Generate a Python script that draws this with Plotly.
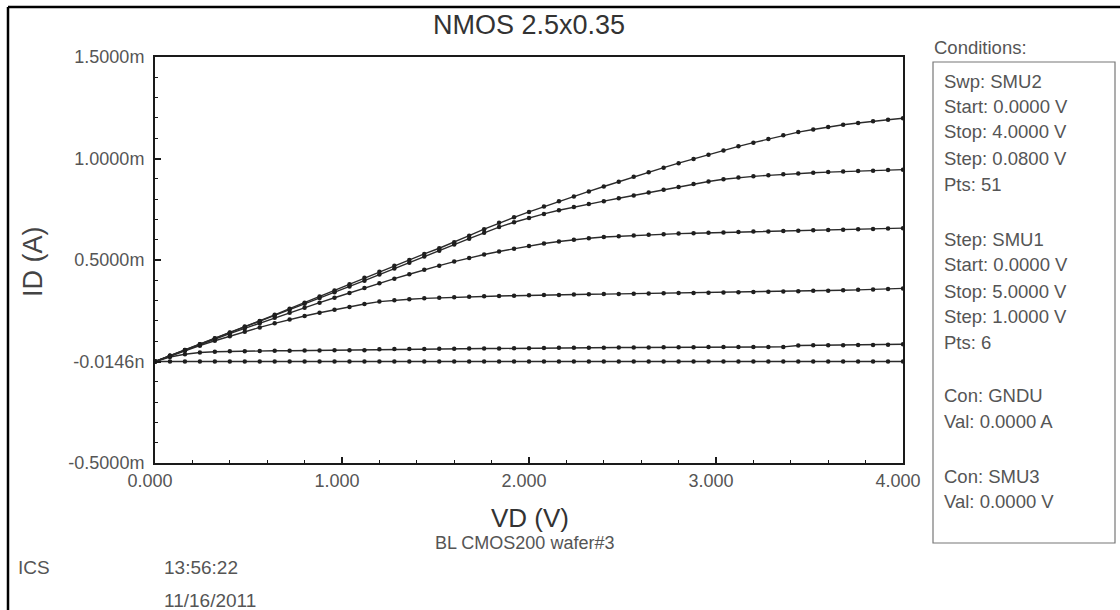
import plotly.graph_objects as go

# Drain sweep (SMU2): 0 V to 4 V in 0.08 V steps, 51 points
vd = [0.00, 0.08, 0.16, 0.24, 0.32, 0.40, 0.48, 0.56, 0.64, 0.72,
      0.80, 0.88, 0.96, 1.04, 1.12, 1.20, 1.28, 1.36, 1.44, 1.52,
      1.60, 1.68, 1.76, 1.84, 1.92, 2.00, 2.08, 2.16, 2.24, 2.32,
      2.40, 2.48, 2.56, 2.64, 2.72, 2.80, 2.88, 2.96, 3.04, 3.12,
      3.20, 3.28, 3.36, 3.44, 3.52, 3.60, 3.68, 3.76, 3.84, 3.92,
      4.00]

# Drain current in mA for each gate step (SMU1: 0..5 V)
id_vg0 = [0.000, 0.000, 0.000, 0.000, 0.000, 0.000, 0.000, 0.000, 0.000, 0.000,
          0.000, 0.000, 0.000, 0.000, 0.000, 0.000, 0.000, 0.000, 0.000, 0.000,
          0.000, 0.000, 0.000, 0.000, 0.000, 0.000, 0.000, 0.000, 0.000, 0.000,
          0.000, 0.000, 0.000, 0.000, 0.000, 0.000, 0.000, 0.000, 0.000, 0.000,
          0.000, 0.000, 0.000, 0.000, 0.000, 0.000, 0.000, 0.000, 0.000, 0.000,
          0.000]
id_vg1 = [0.000, 0.022, 0.036, 0.044, 0.048, 0.050, 0.051, 0.052, 0.053, 0.053,
          0.054, 0.054, 0.055, 0.055, 0.056, 0.060, 0.061, 0.062, 0.062, 0.063,
          0.063, 0.064, 0.064, 0.064, 0.065, 0.065, 0.066, 0.068, 0.068, 0.068,
          0.068, 0.069, 0.069, 0.069, 0.070, 0.070, 0.070, 0.071, 0.071, 0.071,
          0.072, 0.072, 0.072, 0.079, 0.080, 0.080, 0.080, 0.081, 0.081, 0.082,
          0.085]
id_vg2 = [0.000, 0.027, 0.053, 0.078, 0.102, 0.125, 0.147, 0.168, 0.188, 0.207,
          0.224, 0.240, 0.255, 0.269, 0.283, 0.295, 0.302, 0.307, 0.311, 0.314,
          0.317, 0.319, 0.321, 0.323, 0.324, 0.326, 0.327, 0.328, 0.330, 0.331,
          0.332, 0.333, 0.334, 0.335, 0.336, 0.337, 0.338, 0.339, 0.340, 0.341,
          0.342, 0.343, 0.345, 0.346, 0.348, 0.349, 0.351, 0.353, 0.355, 0.357,
          0.360]
id_vg3 = [0.000, 0.028, 0.056, 0.083, 0.110, 0.137, 0.163, 0.189, 0.215, 0.240,
          0.265, 0.290, 0.314, 0.338, 0.362, 0.385, 0.408, 0.430, 0.452, 0.472,
          0.492, 0.510, 0.527, 0.542, 0.556, 0.569, 0.581, 0.591, 0.600, 0.607,
          0.613, 0.617, 0.621, 0.624, 0.627, 0.630, 0.632, 0.634, 0.636, 0.638,
          0.640, 0.641, 0.643, 0.644, 0.646, 0.648, 0.649, 0.651, 0.653, 0.655,
          0.657]
id_vg4 = [0.000, 0.028, 0.057, 0.085, 0.113, 0.142, 0.170, 0.198, 0.227, 0.256,
          0.284, 0.313, 0.341, 0.370, 0.398, 0.428, 0.458, 0.487, 0.517, 0.546,
          0.576, 0.605, 0.634, 0.662, 0.686, 0.707, 0.727, 0.745, 0.761, 0.776,
          0.790, 0.804, 0.818, 0.832, 0.846, 0.860, 0.874, 0.887, 0.898, 0.906,
          0.912, 0.917, 0.922, 0.926, 0.930, 0.933, 0.936, 0.938, 0.940, 0.943,
          0.945]
id_vg5 = [0.000, 0.028, 0.057, 0.085, 0.114, 0.143, 0.172, 0.200, 0.230, 0.260,
          0.290, 0.320, 0.350, 0.380, 0.412, 0.442, 0.472, 0.500, 0.530, 0.558,
          0.588, 0.620, 0.652, 0.683, 0.710, 0.737, 0.763, 0.789, 0.813, 0.838,
          0.862, 0.886, 0.910, 0.932, 0.955, 0.977, 0.998, 1.018, 1.040, 1.060,
          1.078, 1.096, 1.114, 1.130, 1.143, 1.155, 1.166, 1.175, 1.184, 1.191,
          1.198]

series = [id_vg0, id_vg1, id_vg2, id_vg3, id_vg4, id_vg5]

y_tickvals = [-0.5, 0.0, 0.5, 1.0, 1.5]
y_ticktext = ["-0.5000m", "-0.0146n", "0.5000m", "1.0000m", "1.5000m"]
x_tickvals = [0, 1, 2, 3, 4]
x_ticktext = ["0.000", "1.000", "2.000", "3.000", "4.000"]

conditions = [
    ("Swp: SMU2", 81), ("Start: 0.0000 V", 106), ("Stop: 4.0000 V", 132),
    ("Step: 0.0800 V", 158), ("Pts: 51", 184),
    ("Step: SMU1", 239), ("Start: 0.0000 V", 265), ("Stop: 5.0000 V", 291),
    ("Step: 1.0000 V", 316), ("Pts: 6", 342),
    ("Con: GNDU", 395), ("Val: 0.0000 A", 421),
    ("Con: SMU3", 476), ("Val: 0.0000 V", 501),
]

W, H = 1120, 610
FONT = "Liberation Sans, Arial, sans-serif"
GRAY = "#555555"


def px(x):
    return x / W


def py(y):
    return 1 - y / H


fig = go.Figure()
for ys in series:
    fig.add_trace(go.Scatter(
        x=vd, y=ys, mode="lines+markers",
        line=dict(color="#2b2b2b", width=1.4),
        marker=dict(symbol="circle", size=4.5, color="#1e1e1e"),
        showlegend=False, hoverinfo="skip",
    ))

axis_common = dict(
    showline=True, linecolor="#1a1a1a", linewidth=2, mirror=True,
    showgrid=False, zeroline=False, ticks="inside", ticklen=6, tickwidth=1.5,
    tickcolor="#1a1a1a", tickfont=dict(family=FONT, size=18, color=GRAY),
    automargin=False,
)

fig.update_layout(
    width=W, height=H,
    margin=dict(l=0, r=0, t=0, b=0),
    paper_bgcolor="white", plot_bgcolor="white",
    xaxis=dict(
        domain=[px(155), px(903)], range=[0, 4],
        tickvals=x_tickvals, ticktext=x_ticktext,
        ticklabelshift=-5,
        minor=dict(ticks="inside", dtick=0.2, ticklen=3, tickwidth=1.2, tickcolor="#1a1a1a"),
        **axis_common,
    ),
    yaxis=dict(
        domain=[py(463), py(57)], range=[-0.5, 1.5],
        tickvals=y_tickvals, ticktext=y_ticktext,
        ticklabelstandoff=5,
        minor=dict(ticks="inside", dtick=0.1, ticklen=3, tickwidth=1.2, tickcolor="#1a1a1a"),
        **axis_common,
    ),
)

# outer frame (left and top edges)
fig.add_shape(type="line", xref="paper", yref="paper",
              x0=px(8), y0=py(7), x1=px(8), y1=py(612),
              line=dict(color="black", width=2.5))
fig.add_shape(type="line", xref="paper", yref="paper",
              x0=px(8), y0=py(7), x1=px(1122), y1=py(7),
              line=dict(color="black", width=2.5))

# conditions box
fig.add_shape(type="rect", xref="paper", yref="paper",
              x0=px(933), y0=py(62), x1=px(1115), y1=py(543),
              line=dict(color="#777777", width=1.2))


def text(s, x, y, size, color=GRAY, xanchor="left", angle=0):
    fig.add_annotation(
        text=s, x=px(x), y=py(y), xref="paper", yref="paper",
        xanchor=xanchor, yanchor="middle", showarrow=False, textangle=angle,
        font=dict(family=FONT, size=size, color=color),
    )


text("NMOS 2.5x0.35", 529, 25, 27, "#333333", "center")
text("ID (A)", 33, 262, 27, "#444444", "center", angle=-90)
text("VD (V)", 530, 518, 26, "#333333", "center")
text("BL CMOS200 wafer#3", 524, 543, 18, GRAY, "center")
text("Conditions:", 932, 47, 18.5)
for s, y in conditions:
    text(s, 942, y, 18.5)
text("ICS", 16, 567, 19)
text("13:56:22", 162, 567, 19)
text("11/16/2011", 162, 600, 19)

fig.write_html(
    "out.html",
    post_script="document.body.style.margin='0';document.body.style.overflow='hidden';",
)
